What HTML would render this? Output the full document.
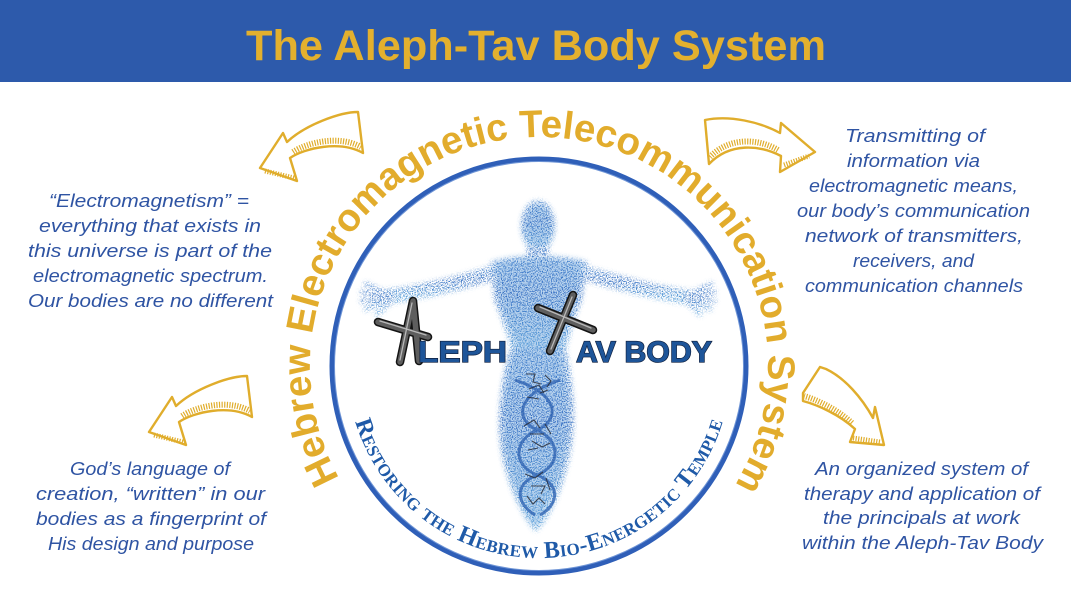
<!DOCTYPE html>
<html>
<head>
<meta charset="utf-8">
<style>
  html,body{margin:0;padding:0;background:#fff;}
  body{width:1071px;height:603px;overflow:hidden;}
  svg{display:block;}
  .hand{font-family:"Liberation Sans",sans-serif;font-style:italic;font-size:18px;fill:#2f54a3;}
</style>
</head>
<body>
<svg width="1071" height="603" viewBox="0 0 1071 603" xmlns="http://www.w3.org/2000/svg">
  <defs>
    <filter id="sp" x="-10%" y="-10%" width="120%" height="120%">
      <feGaussianBlur in="SourceGraphic" stdDeviation="2.5" result="b"/>
      <feTurbulence type="fractalNoise" baseFrequency="0.8" numOctaves="2" seed="5" result="n"/>
      <feColorMatrix in="n" type="matrix" values="0 0 0 0 0  0 0 0 0 0  0 0 0 0 0  4 0 0 0 -1.75" result="m"/>
      <feComposite in="b" in2="m" operator="in"/>
    </filter>
    <filter id="soft" x="-10%" y="-10%" width="120%" height="120%">
      <feGaussianBlur stdDeviation="3.5"/>
    </filter>
    <linearGradient id="bodyg" x1="0" y1="0" x2="0" y2="1">
      <stop offset="0" stop-color="#3f7fcc"/>
      <stop offset="0.4" stop-color="#2f6ac0"/>
      <stop offset="1" stop-color="#4f9ad8"/>
    </linearGradient>
    <path id="outerArc" d="M539,595 A229,229 0 1 1 539,137 A229,229 0 1 1 539,595"/>
    <path id="innerArc" d="M539,174 A192,192 0 1 0 539,558 A192,192 0 1 0 539,174"/>
    <g id="arrowL">
      <path d="M358,112 C340,112 305,125 287,142 L283,133 L260,168 L297,181 L290,158 C305,148 340,140 363,153 L358,112 Z" fill="#fff" stroke="#e0ad2c" stroke-width="2.4" stroke-linejoin="round"/>
      <path d="M293,152 C308,142 340,135 361,147" fill="none" stroke="#e0ad2c" stroke-width="6" stroke-dasharray="1.2 1.4"/>
      <path d="M265,171 L294,178" fill="none" stroke="#e0ad2c" stroke-width="5" stroke-dasharray="1.2 1.4"/>
    </g>
  </defs>

  <!-- header -->
  <rect x="0" y="0" width="1071" height="82" fill="#2d5aab"/>
  <text x="246" y="60" font-family="Liberation Sans, sans-serif" font-weight="bold" font-size="43" fill="#e3b02e" textLength="580" lengthAdjust="spacingAndGlyphs">The Aleph-Tav Body System</text>

  <!-- arrows -->
  <use href="#arrowL"/>
  <use href="#arrowL" transform="translate(-111,264)"/>

  <g>
    <path d="M705,120 C730,115 760,122 780,133 L781,123 L815,152 L780,172 L781,156 C760,145 730,142 709,164 L705,120 Z" fill="#fff" stroke="#e0ad2c" stroke-width="2.4" stroke-linejoin="round"/>
    <path d="M778,150 C760,139 730,136 710,157" fill="none" stroke="#e0ad2c" stroke-width="6" stroke-dasharray="1.2 1.4"/>
    <path d="M784,165 L809,156" fill="none" stroke="#e0ad2c" stroke-width="5" stroke-dasharray="1.2 1.4"/>
  </g>
  <g>
    <path d="M820,367 L826,369 C845,378 862,398 873,418 L875,407 L884,445 L850,442 L855,429 C840,415 818,405 803,401 L803,393 L820,367 Z" fill="#fff" stroke="#e0ad2c" stroke-width="2.4" stroke-linejoin="round"/>
    <path d="M852,423 C838,410 818,400 804,396" fill="none" stroke="#e0ad2c" stroke-width="6" stroke-dasharray="1.2 1.4"/>
    <path d="M853,438 L880,442" fill="none" stroke="#e0ad2c" stroke-width="5" stroke-dasharray="1.2 1.4"/>
  </g>

  <!-- outer curved text -->
  <text font-family="Liberation Sans, sans-serif" font-weight="bold" font-size="38.5" fill="#e2ac2c">
    <textPath href="#outerArc" startOffset="723" text-anchor="middle" textLength="962" lengthAdjust="spacing">Hebrew Electromagnetic Telecommunication System</textPath>
  </text>

  <!-- logo circle -->
  <circle cx="539" cy="366" r="207" fill="#fff" stroke="#2f5fb8" stroke-width="5"/>
  <circle cx="539" cy="366" r="204.5" fill="none" stroke="#6f95d6" stroke-width="1"/>

  <!-- figure -->
  <g opacity="0.45" filter="url(#soft)" fill="#6aa4dc">
    <ellipse cx="538" cy="226" rx="15" ry="22"/>
    <path d="M494,262 Q538,252 584,262 L578,300 Q566,330 562,350 L516,350 Q510,330 498,300 Z"/>
    <path d="M512,350 Q494,420 508,470 Q520,510 535,528 Q552,510 562,470 Q578,420 562,350 Z"/>
  </g>
  <g filter="url(#sp)" fill="url(#bodyg)" stroke="url(#bodyg)">
    <ellipse cx="538" cy="226" rx="17" ry="26" stroke="none"/>
    <rect x="527" y="245" width="22" height="22" stroke="none"/>
    <path d="M490,262 Q538,250 588,262 L582,300 Q570,330 566,352 L512,352 Q506,330 494,300 Z" stroke="none"/>
    <path d="M510,348 Q490,420 506,472 Q518,512 536,532 Q555,512 566,472 Q582,420 566,348 Z" stroke="none"/>
    <path d="M502,270 Q440,290 385,297" fill="none" stroke-width="15" stroke-linecap="round"/>
    <path d="M575,270 Q638,290 693,298" fill="none" stroke-width="15" stroke-linecap="round"/>
    <path d="M392,297 L366,284 M390,297 L362,292 M390,298 L362,301 M390,299 L366,309 M392,300 L377,314" fill="none" stroke-width="5" stroke-linecap="round"/>
    <path d="M686,297 L711,284 M688,297 L714,292 M688,298 L714,301 M688,299 L710,309 M686,300 L700,314" fill="none" stroke-width="5" stroke-linecap="round"/>
  </g>
  <!-- DNA helix -->
  <g fill="none" stroke="#2a5fb0" stroke-width="3" opacity="0.75">
    <path d="M515,380 C560,395 560,420 537,430 C514,440 512,465 537,475 C562,485 558,505 540,515"/>
    <path d="M560,380 C515,395 515,420 537,430 C560,440 562,465 537,475 C512,485 518,505 535,515"/>
  </g>
  <!-- paleo letters scribbles -->
  <g fill="none" stroke="#2b2f3a" stroke-width="1.1" opacity="0.85">
    <path d="M526,374 l9,0 l-2,8 l8,2 M529,389 l10,-4 l5,8 M545,375 l6,6 l-4,6 M527,397 l12,2 M540,393 l8,-3"/>
    <path d="M524,426 l10,-6 l6,8 M530,434 l14,0 M532,441 l10,6 l8,-4 M545,424 l6,10 M528,450 l10,-2"/>
    <path d="M525,474 l10,4 l8,-6 M531,486 l14,0 l-4,8 M527,496 l6,8 l6,-6 l6,6 M546,478 l4,12"/>
  </g>

  <!-- A and X sketch letters -->
  <g fill="none" stroke-linecap="round" stroke-linejoin="round">
    <path d="M400,362 L413,301 L419,361 M378,322 L428,337" stroke="#141414" stroke-width="8.5"/>
    <path d="M400,362 L413,301 L419,361 M378,322 L428,337" stroke="#5e5e5e" stroke-width="5.5"/>
    <path d="M400,360 L412,303 M380,321 L426,335" stroke="#b8b8b8" stroke-width="1.3"/>
    <path d="M538,308 L593,330 M573,295 L550,351" stroke="#141414" stroke-width="8.5"/>
    <path d="M538,308 L593,330 M573,295 L550,351" stroke="#5e5e5e" stroke-width="5.5"/>
    <path d="M540,307 L591,328 M572,297 L551,349" stroke="#b8b8b8" stroke-width="1.3"/>
  </g>
  <g font-family="Liberation Sans, sans-serif" font-weight="bold" font-size="30" fill="#1e5599" stroke="#0f1f3d" stroke-width="1.3" paint-order="stroke">
    <text x="418" y="362" textLength="89" lengthAdjust="spacingAndGlyphs">LEPH</text>
    <text x="576" y="362" textLength="136" lengthAdjust="spacingAndGlyphs">AV BODY</text>
  </g>

  <!-- inner curved text -->
  <text font-family="Liberation Serif, serif" font-weight="bold" font-size="24" fill="#1f5aa8" style="font-variant:small-caps">
    <textPath href="#innerArc" startOffset="50%" text-anchor="middle" textLength="490" lengthAdjust="spacing">Restoring the Hebrew Bio-Energetic Temple</textPath>
  </text>

  <!-- text blocks -->
  <g class="hand">
    <text x="49" y="207" textLength="200" lengthAdjust="spacingAndGlyphs">“Electromagnetism” =</text>
    <text x="39" y="232" textLength="222" lengthAdjust="spacingAndGlyphs">everything that exists in</text>
    <text x="28" y="257" textLength="244" lengthAdjust="spacingAndGlyphs">this universe is part of the</text>
    <text x="33" y="282" textLength="235" lengthAdjust="spacingAndGlyphs">electromagnetic spectrum.</text>
    <text x="28" y="307" textLength="245" lengthAdjust="spacingAndGlyphs">Our bodies are no different</text>

    <text x="845" y="142" textLength="140" lengthAdjust="spacingAndGlyphs">Transmitting of</text>
    <text x="847" y="167" textLength="133" lengthAdjust="spacingAndGlyphs">information via</text>
    <text x="809" y="192" textLength="209" lengthAdjust="spacingAndGlyphs">electromagnetic means,</text>
    <text x="797" y="217" textLength="233" lengthAdjust="spacingAndGlyphs">our body’s communication</text>
    <text x="805" y="242" textLength="218" lengthAdjust="spacingAndGlyphs">network of transmitters,</text>
    <text x="853" y="267" textLength="121" lengthAdjust="spacingAndGlyphs">receivers, and</text>
    <text x="805" y="292" textLength="218" lengthAdjust="spacingAndGlyphs">communication channels</text>

    <text x="70" y="475" textLength="160" lengthAdjust="spacingAndGlyphs">God’s language of</text>
    <text x="36" y="500" textLength="229" lengthAdjust="spacingAndGlyphs">creation, “written” in our</text>
    <text x="36" y="525" textLength="230" lengthAdjust="spacingAndGlyphs">bodies as a fingerprint of</text>
    <text x="48" y="550" textLength="206" lengthAdjust="spacingAndGlyphs">His design and purpose</text>

    <text x="815" y="475" textLength="213" lengthAdjust="spacingAndGlyphs">An organized system of</text>
    <text x="804" y="500" textLength="236" lengthAdjust="spacingAndGlyphs">therapy and application of</text>
    <text x="823" y="524" textLength="197" lengthAdjust="spacingAndGlyphs">the principals at work</text>
    <text x="802" y="549" textLength="241" lengthAdjust="spacingAndGlyphs">within the Aleph-Tav Body</text>
  </g>
</svg>
</body>
</html>
